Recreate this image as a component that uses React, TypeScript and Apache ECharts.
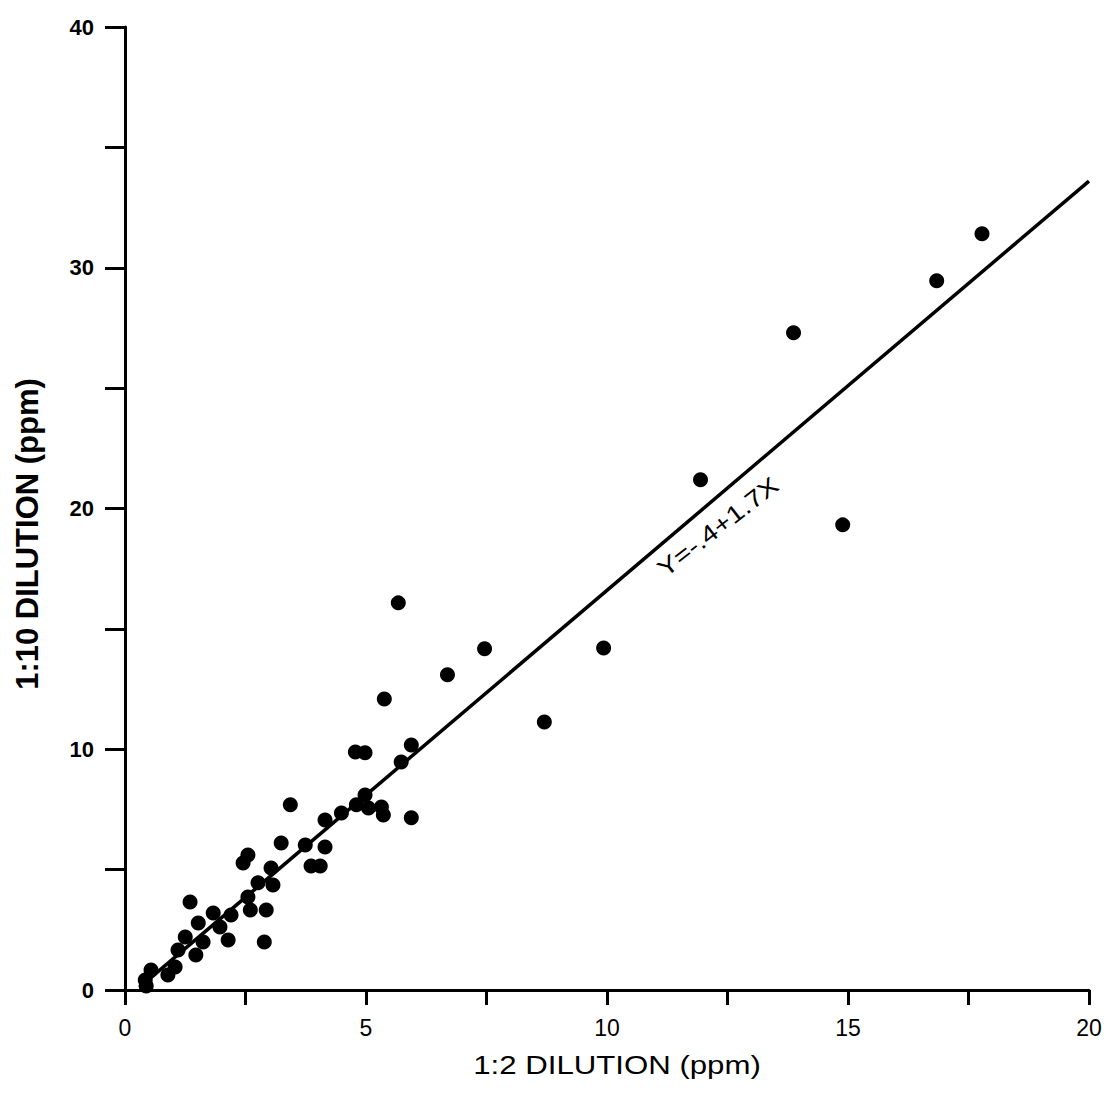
import React, { useEffect, useRef } from "react";
import * as echarts from "echarts";

const xTickLabels = [0, 5, 10, 15, 20];
const yTickLabels = [0, 10, 20, 30, 40];

const pointsX = [
  17.78, 16.84, 13.87, 11.94, 14.89, 9.93, 8.7, 7.46, 6.69, 5.67, 5.38, 5.94, 5.73, 4.78, 4.98,
  4.98, 4.8, 5.05, 5.32, 5.36, 4.49, 4.15, 5.94, 3.74, 4.15, 3.24, 3.86, 4.05, 3.43, 2.55,
  2.45, 3.03, 2.76, 3.07, 2.55, 2.6, 2.93, 2.89, 1.35, 1.83, 2.2, 1.52, 1.97, 1.25, 1.62,
  2.14, 1.1, 1.47, 1.04, 0.54, 0.89, 0.42, 0.44,
];
const pointsY = [
  31.41, 29.46, 27.3, 21.19, 19.32, 14.21, 11.13, 14.17, 13.09, 16.08, 12.09, 10.18, 9.47, 9.89, 9.85,
  8.1, 7.69, 7.56, 7.6, 7.27, 7.35, 7.06, 7.15, 6.02, 5.94, 6.11, 5.15, 5.15, 7.69, 5.61,
  5.28, 5.07, 4.45, 4.36, 3.86, 3.32, 3.32, 1.99, 3.66, 3.2, 3.12, 2.78, 2.62, 2.2, 1.99,
  2.08, 1.66, 1.45, 0.96, 0.83, 0.62, 0.42, 0.17,
];

const fitIntercept = -0.4;
const fitSlope = 1.7;
const fitRange = [0.3, 20];
const equationText = "Y=-.4+1.7X";

export default function App() {
  const ref = useRef<HTMLDivElement>(null);
  useEffect(() => {
    if (!ref.current) return;
    const chart = echarts.init(ref.current, undefined, { renderer: "svg" });
    const scatterData = pointsX.map((x, i) => [x, pointsY[i]]);
    const fitData = fitRange.map((x) => [x, fitIntercept + fitSlope * x]);
    const font = "'Liberation Sans', Arial, Helvetica, sans-serif";
    chart.setOption({
      animation: false,
      backgroundColor: "#ffffff",
      grid: { left: 125, right: 18, top: 27, bottom: 103, containLabel: false },
      xAxis: {
        type: "value",
        min: 0,
        max: 20,
        interval: 2.5,
        splitLine: { show: false },
        axisLine: { show: true, onZero: false, lineStyle: { color: "#000", width: 3 } },
        axisTick: { show: true, length: 15, lineStyle: { color: "#000", width: 3 } },
        axisLabel: {
          color: "#000",
          fontSize: 23,
          fontFamily: font,
          margin: 26,
          formatter: (v: number) => (xTickLabels.indexOf(v) >= 0 ? String(v) : ""),
        },
      },
      yAxis: {
        type: "value",
        min: 0,
        max: 40,
        interval: 5,
        splitLine: { show: false },
        axisLine: { show: true, onZero: false, lineStyle: { color: "#000", width: 3 } },
        axisTick: { show: true, length: 20, lineStyle: { color: "#000", width: 3 } },
        axisLabel: {
          color: "#000",
          fontSize: 22,
          fontWeight: "bold",
          fontFamily: font,
          margin: 31,
          formatter: (v: number) => (yTickLabels.indexOf(v) >= 0 ? String(v) : ""),
        },
      },
      graphic: [
        {
          type: "text",
          x: 617,
          y: 1065,
          scaleX: 1.2,
          style: {
            text: "1:2 DILUTION (ppm)",
            fontSize: 26,
            fontFamily: font,
            fill: "#000",
            align: "center",
            verticalAlign: "middle",
          },
        },
        {
          type: "text",
          x: 27,
          y: 534,
          rotation: Math.PI / 2,
          style: {
            text: "1:10 DILUTION (ppm)",
            fontSize: 31,
            fontWeight: "bold",
            fontFamily: font,
            fill: "#000",
            align: "center",
            verticalAlign: "middle",
          },
        },
        {
          type: "text",
          x: 718,
          y: 527,
          rotation: 0.66,
          scaleX: 1.2,
          style: {
            text: equationText,
            fontSize: 24,
            fontFamily: font,
            fill: "#000",
            align: "center",
            verticalAlign: "middle",
          },
        },
      ],
      series: [
        {
          type: "line",
          data: fitData,
          symbol: "none",
          lineStyle: { color: "#000", width: 3.5 },
          z: 2,
        },
        {
          type: "scatter",
          data: scatterData,
          symbol: "circle",
          symbolSize: 15,
          itemStyle: { color: "#000", opacity: 1 },
          z: 3,
        },
      ],
    });
    return () => chart.dispose();
  }, []);
  return (
    <div
      ref={ref}
      style={{ position: "fixed", left: 0, top: 0, width: 1107, height: 1093, background: "#fff" }}
    />
  );
}
